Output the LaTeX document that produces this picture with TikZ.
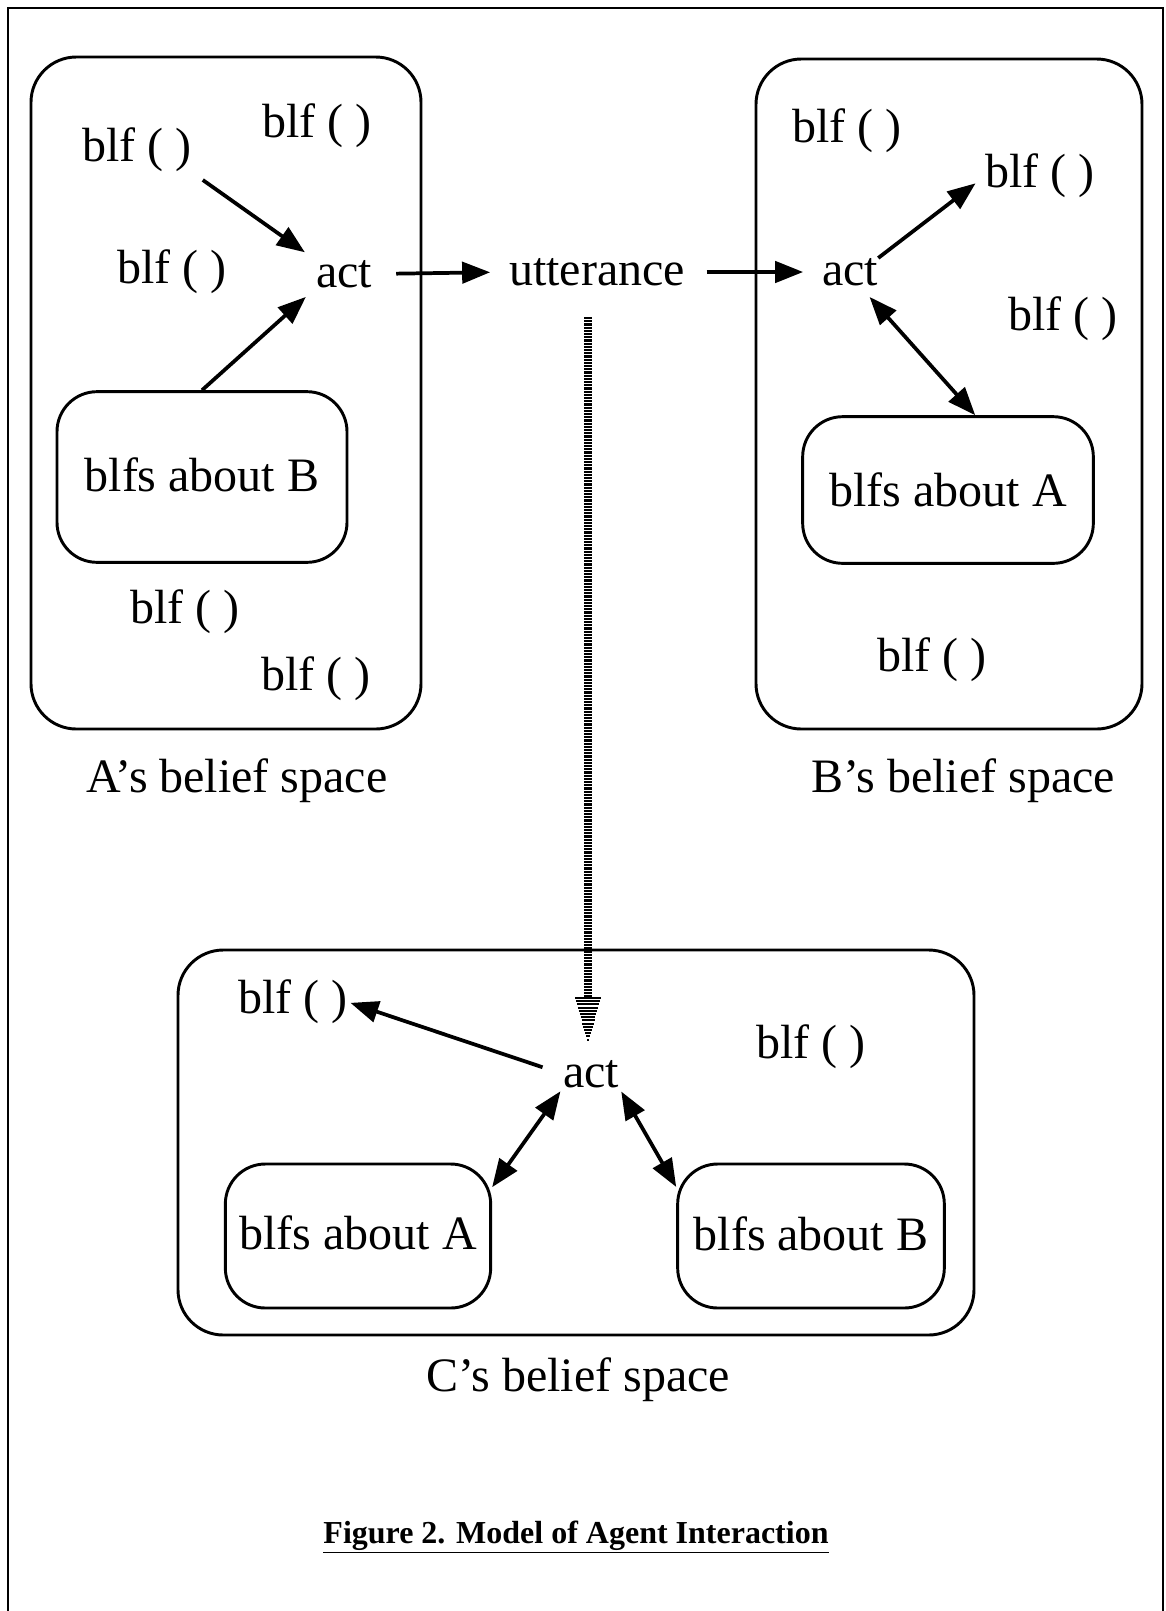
\documentclass[tikz,border=0pt]{standalone}
\usepackage{fontspec}
\setmainfont{Liberation Serif}
\usetikzlibrary{arrows.meta}

\begin{document}
\begin{tikzpicture}[x=0.75pt,y=0.75pt,yscale=-1,
  txt/.style={inner sep=0pt,yshift=-2.25pt,font=\fontsize{36}{40}\selectfont},
  blfbox/.style={draw,line width=2.2pt,rounded corners=30pt,inner sep=0pt,font=\fontsize{36}{40}\selectfont},
  space/.style={draw,line width=2.2pt,rounded corners=34pt},
  arr/.style={line width=2.8pt,-{Triangle[length=21pt,width=16pt]}},
  darr/.style={line width=2.8pt,{Triangle[length=21pt,width=16pt]}-{Triangle[length=21pt,width=16pt]}},
  hatch/.style={line width=5.5pt,dash pattern=on 1.6pt off 0.8pt}]
\useasboundingbox (0,0) rectangle (1165,1611);

%Shape: Frame
\draw[line width=2pt] (8,1611) -- (8,8) -- (1163,8) -- (1163,1611);

%Shape: A's space
\draw[space] (31,57) rectangle (421,729);
%Shape: B's space
\draw[space] (756,59) rectangle (1142,729);
%Shape: C's space
\draw[space] (178,950) rectangle (974,1335);

%Shape: inner boxes
\node[blfbox,minimum width=217.5pt,minimum height=128pt,text depth=3pt] (aboutB) at (202,477) {blfs about B};
\node[blfbox,minimum width=218pt,minimum height=110pt] (aboutA) at (948,490) {blfs about A};
\node[blfbox,minimum width=199pt,minimum height=108pt,text depth=5pt] (cAboutA) at (358,1236) {blfs about A};
\node[blfbox,minimum width=200pt,minimum height=108pt,text depth=3pt] (cAboutB) at (811,1236) {blfs about B};

% Text Node
\node[txt] (blfA1) at (137,147) {blf ( )};
\node[txt] (blfA2) at (317,123) {blf ( )};
\node[txt] (blfA3) at (172,269) {blf ( )};
\node[txt] (blfA4) at (185,609) {blf ( )};
\node[txt] (blfA5) at (316,676) {blf ( )};
\node[txt] (actA) at (344,271) {act};
% Text Node
\node[txt] (utt) at (597,269) {utterance};
% Text Node
\node[txt] (actB) at (850,269) {act};
\node[txt] (blfB1) at (847,128) {blf ( )};
\node[txt] (blfB2) at (1040,173) {blf ( )};
\node[txt] (blfB3) at (1063,316) {blf ( )};
\node[txt] (blfB4) at (932,657) {blf ( )};
% Text Node
\node[txt] (actC) at (591,1071) {act};
\node[txt] (blfC1) at (293,999) {blf ( )};
\node[txt] (blfC2) at (811,1044) {blf ( )};
% Text Node
\node[txt] (labA) at (237,778) {A’s belief space};
\node[txt] (labB) at (963,778) {B’s belief space};
\node[txt] (labC) at (578,1377) {C’s belief space};
% Text Node
\node[font=\fontsize{24}{28}\selectfont\bfseries] (caption) at (576,1537) {\underline{Figure 2. Model of Agent Interaction}};

%Straight Lines
\draw[arr,shorten <=10pt,shorten >=10pt] (blfA1.south east) -- (actA.north west);
\draw[arr,shorten >=10pt] (aboutB.north) -- (actA.south west);
\draw[arr,shorten <=18pt,shorten >=14pt] (actA.east) -- (utt.west);
\draw[arr,shorten <=16pt,shorten >=14pt] (utt.east) -- (actB.west);
\draw[arr,shorten >=9pt] (actB.north east) -- (blfB2.west);
\draw[darr,shorten <=11pt] (actB.-55) -- (aboutA.70);
\draw[arr,shorten <=16pt,shorten >=2pt] (actC.west) -- (blfC1.east);
\draw[darr,shorten <=3pt] (actC.south west) -- (cAboutA.20);
\draw[darr,shorten <=3pt] (actC.south east) -- (cAboutB.160);

%Hatched Line
\coordinate (dtop) at (588,317);
\coordinate (dhead) at (588,998);
\draw[hatch] (dtop) -- (dhead);
\foreach \k in {0,...,13}{
  \pgfmathsetmacro{\w}{13*(1-\k/14)}
  \draw[line width=1.6pt] (dhead) ++(-\w,3.2*\k) -- ++(2*\w,0);
}
\end{tikzpicture}
\end{document}
